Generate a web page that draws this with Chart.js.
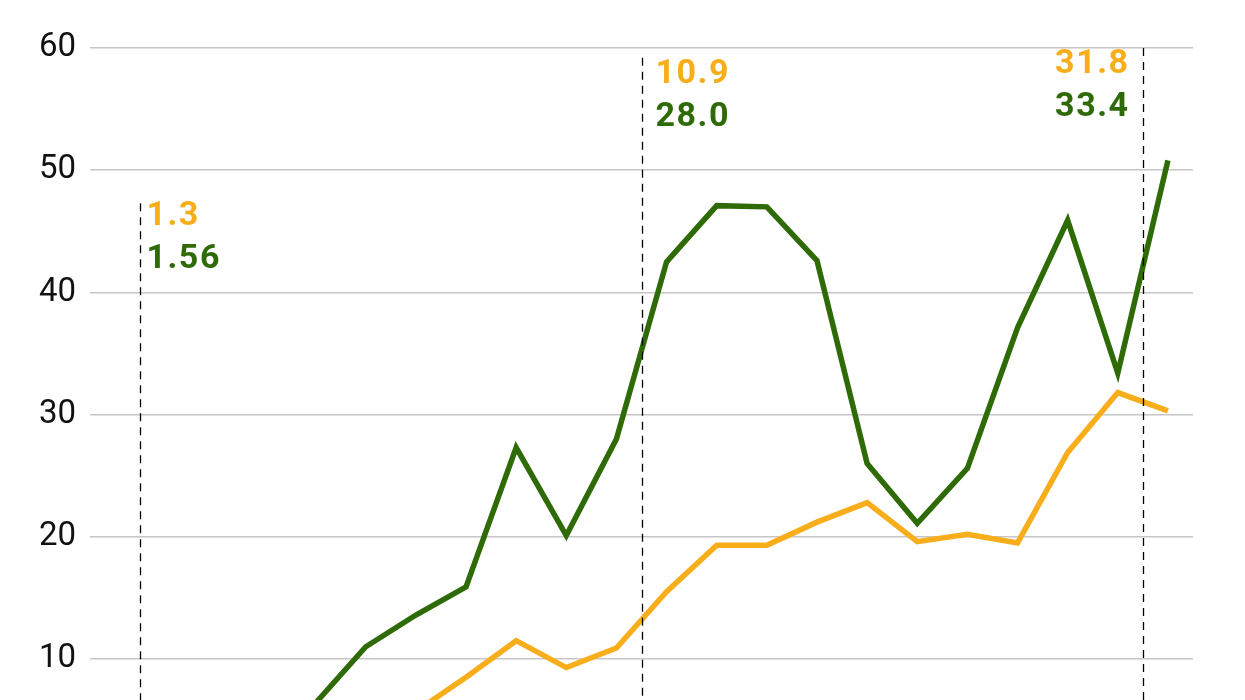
<!DOCTYPE html>
<html>
<head>
<meta charset="utf-8">
<script src="https://cdn.jsdelivr.net/npm/chart.js@4.4.1/dist/chart.umd.min.js"></script>
<style>
  html, body { margin: 0; padding: 0; background: #fff; overflow: hidden; }
  #wrap { width: 1245px; height: 815px; }
</style>
</head>
<body>
<div id="wrap"><canvas id="chart" width="1245" height="815"></canvas></div>
<script>
// periods along the x axis (labels are not shown in the picture)
const periods = ['1', '2', '3', '4', '5', '6', '7', '8', '9', '10', '11',
                 '12', '13', '14', '15', '16', '17', '18', '19', '20', '21', '22'];

const greenValues = [1.56, 2.0, 3.1, 4.5, 6.4, 11.0, 13.6, 15.9, 27.3, 20.1, 28.0,
                     42.5, 47.1, 47.0, 42.6, 26.0, 21.1, 25.6, 37.1, 45.9, 33.4, 50.8];
const orangeValues = [1.3, 1.6, 2.2, 2.9, 3.8, 4.7, 5.7, 8.5, 11.5, 9.3, 10.9,
                      15.5, 19.3, 19.3, 21.2, 22.8, 19.6, 20.2, 19.5, 26.9, 31.8, 30.3];

const yTicks = [10, 20, 30, 40, 50, 60];

// marked periods and their callout texts
const markIndex = [0, 10, 20];
const markOrange = ['1.3', '10.9', '31.8'];
const markGreen = ['1.56', '28.0', '33.4'];

const GREEN = '#2e6a06';
const ORANGE = '#f8ae1b';

// ==============================================================
// dashed markers + callouts
// ==============================================================
const markers = {
    id: 'markers',
    afterDatasetsDraw(chart) {
        const ctx = chart.ctx;
        const x = chart.scales.x;
        const y = chart.scales.y;
        const area = chart.chartArea;
        const step = x.getPixelForValue(1) - x.getPixelForValue(0);
        const tops = [47.3, 59.2, 60];          // where each dashed line starts
        const align = ['left', 'left', 'right'];
        const dx = [6, 13, -14];
        const dy = [22, 25, 25];

        ctx.save();
        markIndex.forEach(function (idx, i) {
            const px = Math.round(x.getPixelForValue(idx) + step / 2) + 0.5;
            const top = y.getPixelForValue(tops[i]);
            ctx.beginPath();
            ctx.setLineDash([8, 6]);
            ctx.lineWidth = 1.3;
            ctx.strokeStyle = '#000';
            ctx.moveTo(px, top);
            ctx.lineTo(px, area.bottom);
            ctx.stroke();

            ctx.font = 'bold 34px Roboto';
            ctx.letterSpacing = '1.5px';
            ctx.textAlign = align[i];
            ctx.textBaseline = 'alphabetic';
            ctx.fillStyle = ORANGE;
            ctx.fillText(markOrange[i], px + dx[i], top + dy[i]);
            ctx.fillStyle = GREEN;
            ctx.fillText(markGreen[i], px + dx[i], top + dy[i] + 43);
        });
        ctx.restore();
    }
};

new Chart(document.getElementById('chart'), {
    type: 'line',
    data: {
        labels: periods,
        datasets: [{
            label: 'green',
            data: greenValues,
            borderColor: GREEN,
            borderWidth: 5.5,
            pointRadius: 0,
            tension: 0,
            borderJoinStyle: 'miter'
        }, {
            label: 'orange',
            data: orangeValues,
            borderColor: ORANGE,
            borderWidth: 5.5,
            pointRadius: 0,
            tension: 0,
            borderJoinStyle: 'miter'
        }]
    },
    options: {
        responsive: false,
        animation: false,
        layout: {
            padding: { top: 48, right: 52, bottom: 19, left: 0 }
        },
        plugins: {
            legend: { display: false },
            tooltip: { enabled: false }
        },
        scales: {
            x: {
                display: false,
                offset: true
            },
            y: {
                min: 0,
                max: 60,
                afterFit: function (s) { s.width = 90; },
                afterBuildTicks: function (s) {
                    s.ticks = yTicks.map(function (v) { return { value: v }; });
                },
                border: { display: false },
                grid: {
                    color: '#c6c6c6',
                    lineWidth: 1.5,
                    drawTicks: false
                },
                ticks: {
                    padding: 14,
                    color: '#111',
                    font: { family: 'Roboto', size: 33 }
                }
            }
        }
    },
    plugins: [markers]
});
</script>
</body>
</html>
